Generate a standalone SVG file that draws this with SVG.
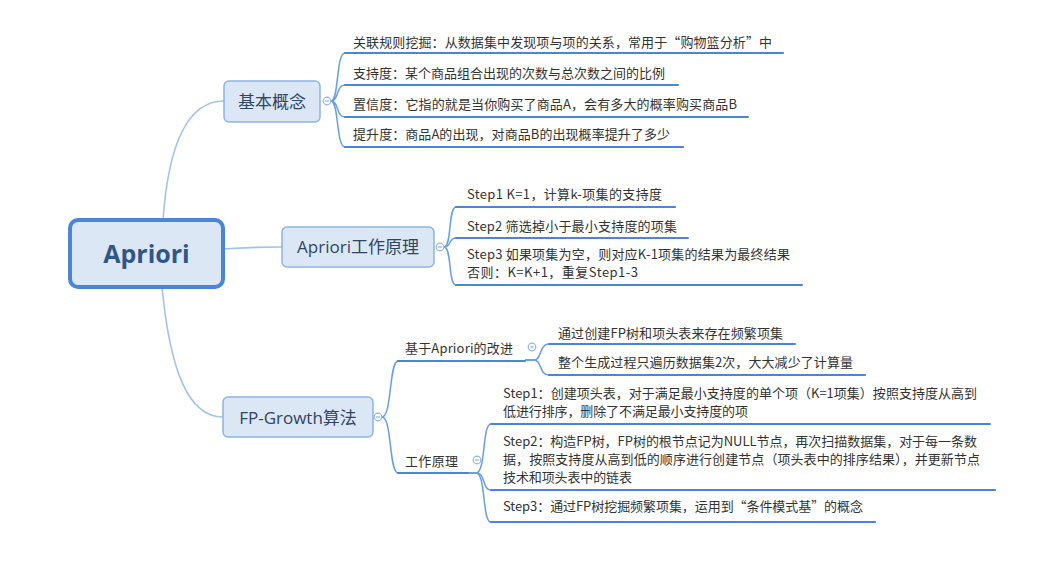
<svg xmlns="http://www.w3.org/2000/svg" width="1050" height="570" viewBox="0 0 1050 570">
<style>
.box{fill:#dbe7f5;stroke:#8db4e8;stroke-width:1.5}
.root{fill:#dbe7f5;stroke:#4a86d4;stroke-width:4}
.bt{font-family:"Open Sans","Noto Sans CJK SC",sans-serif;font-size:17px;fill:#2f4563;text-anchor:middle}
.rt{font-family:"Open Sans","Noto Sans CJK SC",sans-serif;font-size:25px;font-weight:bold;fill:#2f5687;text-anchor:middle}
.t{font-family:"Noto Sans CJK SC",sans-serif;font-size:13px;fill:#333333}
.ul{fill:none;stroke:#4a86d4;stroke-width:2.2;stroke-linecap:round}
.main{fill:none;stroke:#a3c3eb;stroke-width:1.6}
.sub{fill:none;stroke:#6a9edf;stroke-width:1.5}
.tg{fill:#ffffff;stroke:#8db4e8;stroke-width:1.2}
.tgl{stroke:#8db4e8;stroke-width:1.2}
</style>
<rect width="1050" height="570" fill="#ffffff"/>
<g id="connectors">
<path class="main" d="M163,220 C168,150 185,101 224,101"/>
<path class="main" d="M223,249 C250,247 262,247 282,247"/>
<path class="main" d="M162,287 C170,370 188,417 223,417"/>
<path class="sub" d="M331,101 C339,101 336,53 345,53"/>
<path class="sub" d="M331,101 C339,101 336,85 345,85"/>
<path class="sub" d="M331,101 C339,101 336,117 345,117"/>
<path class="sub" d="M331,101 C339,101 336,147 345,147"/>
<path class="sub" d="M444,247 C452,247 448,207 456,207"/>
<path class="sub" d="M444,247 C452,247 448,238 456,238"/>
<path class="sub" d="M444,247 C452,247 448,285 456,285"/>
<path class="sub" d="M382,417 C392,417 389,361 398,361"/>
<path class="sub" d="M382,417 C392,417 389,473 398,473"/>
<path class="sub" d="M525,360 L534,360 C542,360 539,344 549,344"/>
<path class="sub" d="M525,360 L534,360 C542,360 539,375 549,375"/>
<path class="sub" d="M468,473 L476,473 C486,473 482,424 491,424"/>
<path class="sub" d="M468,473 L476,473 C486,473 482,490 491,490"/>
<path class="sub" d="M468,473 L476,473 C486,473 482,522 491,522"/>
</g>
<g id="root">
<rect class="root" x="70" y="220" width="153" height="67" rx="8"/>
<text class="rt" x="146.5" y="263">Apriori</text>
</g>
<g id="jiben">
<rect class="box" x="224" y="81" width="96" height="41" rx="5"/>
<text class="bt" x="272" y="108">基本概念</text>
<circle class="tg" cx="327" cy="101" r="3.8"/><line class="tgl" x1="325" y1="101" x2="329" y2="101"/>
</g>
<g id="gongzuo">
<rect class="box" x="282" y="227" width="152" height="40" rx="5"/>
<text class="bt" x="358" y="253">Apriori工作原理</text>
<circle class="tg" cx="440" cy="247" r="3.8"/><line class="tgl" x1="438" y1="247" x2="442" y2="247"/>
</g>
<g id="fpgrowth">
<rect class="box" x="223" y="397" width="150" height="40" rx="5"/>
<text class="bt" x="298" y="424">FP-Growth算法</text>
<circle class="tg" cx="378" cy="417" r="3.8"/><line class="tgl" x1="376" y1="417" x2="380" y2="417"/>
</g>
<g id="jb1"><text class="t" x="353" y="47" textLength="419">关联规则挖掘：从数据集中发现项与项的关系，常用于“购物篮分析”中</text><path class="ul" d="M345,53 H783"/></g>
<g id="jb2"><text class="t" x="353" y="78" textLength="312">支持度：某个商品组合出现的次数与总次数之间的比例</text><path class="ul" d="M345,85 H678"/></g>
<g id="jb3"><text class="t" x="353" y="109" textLength="384">置信度：它指的就是当你购买了商品A，会有多大的概率购买商品B</text><path class="ul" d="M345,117 H748"/></g>
<g id="jb4"><text class="t" x="353" y="139" textLength="317">提升度：商品A的出现，对商品B的出现概率提升了多少</text><path class="ul" d="M345,147 H683"/></g>
<g id="ap1"><text class="t" x="467" y="199" textLength="195">Step1 K=1，计算k-项集的支持度</text><path class="ul" d="M456,207 H675"/></g>
<g id="ap2"><text class="t" x="467" y="231" textLength="210">Step2 筛选掉小于最小支持度的项集</text><path class="ul" d="M456,238 H688"/></g>
<g id="ap3"><text class="t" x="467" y="259" textLength="323">Step3 如果项集为空，则对应K-1项集的结果为最终结果</text><text class="t" x="467" y="277" textLength="171">否则：K=K+1，重复Step1-3</text><path class="ul" d="M456,285 H802"/></g>
<g id="fp1"><text class="t" x="405" y="353" textLength="108">基于Apriori的改进</text><path class="ul" d="M398,361 H525"/>
<circle class="tg" cx="532" cy="347" r="3.8"/><line class="tgl" x1="530" y1="347" x2="534" y2="347"/></g>
<g id="fp1a"><text class="t" x="558" y="338" textLength="225">通过创建FP树和项头表来存在频繁项集</text><path class="ul" d="M549,344 H795"/></g>
<g id="fp1b"><text class="t" x="558" y="367" textLength="295">整个生成过程只遍历数据集2次，大大减少了计算量</text><path class="ul" d="M549,375 H865"/></g>
<g id="fp2"><text class="t" x="405" y="466" textLength="53">工作原理</text><path class="ul" d="M398,473 H468"/>
<circle class="tg" cx="477" cy="460" r="3.8"/><line class="tgl" x1="475" y1="460" x2="479" y2="460"/></g>
<g id="fp2a"><text class="t" x="503" y="398" textLength="474">Step1：创建项头表，对于满足最小支持度的单个项（K=1项集）按照支持度从高到</text><text class="t" x="503" y="416" textLength="245">低进行排序，删除了不满足最小支持度的项</text><path class="ul" d="M491,424 H990"/></g>
<g id="fp2b"><text class="t" x="503" y="446" textLength="474">Step2：构造FP树，FP树的根节点记为NULL节点，再次扫描数据集，对于每一条数</text><text class="t" x="503" y="464" textLength="477">据，按照支持度从高到低的顺序进行创建节点（项头表中的排序结果），并更新节点</text><text class="t" x="503" y="482" textLength="129">技术和项头表中的链表</text><path class="ul" d="M491,490 H995"/></g>
<g id="fp2c"><text class="t" x="503" y="511" textLength="360">Step3：通过FP树挖掘频繁项集，运用到“条件模式基”的概念</text><path class="ul" d="M491,522 H875"/></g>
</svg>
